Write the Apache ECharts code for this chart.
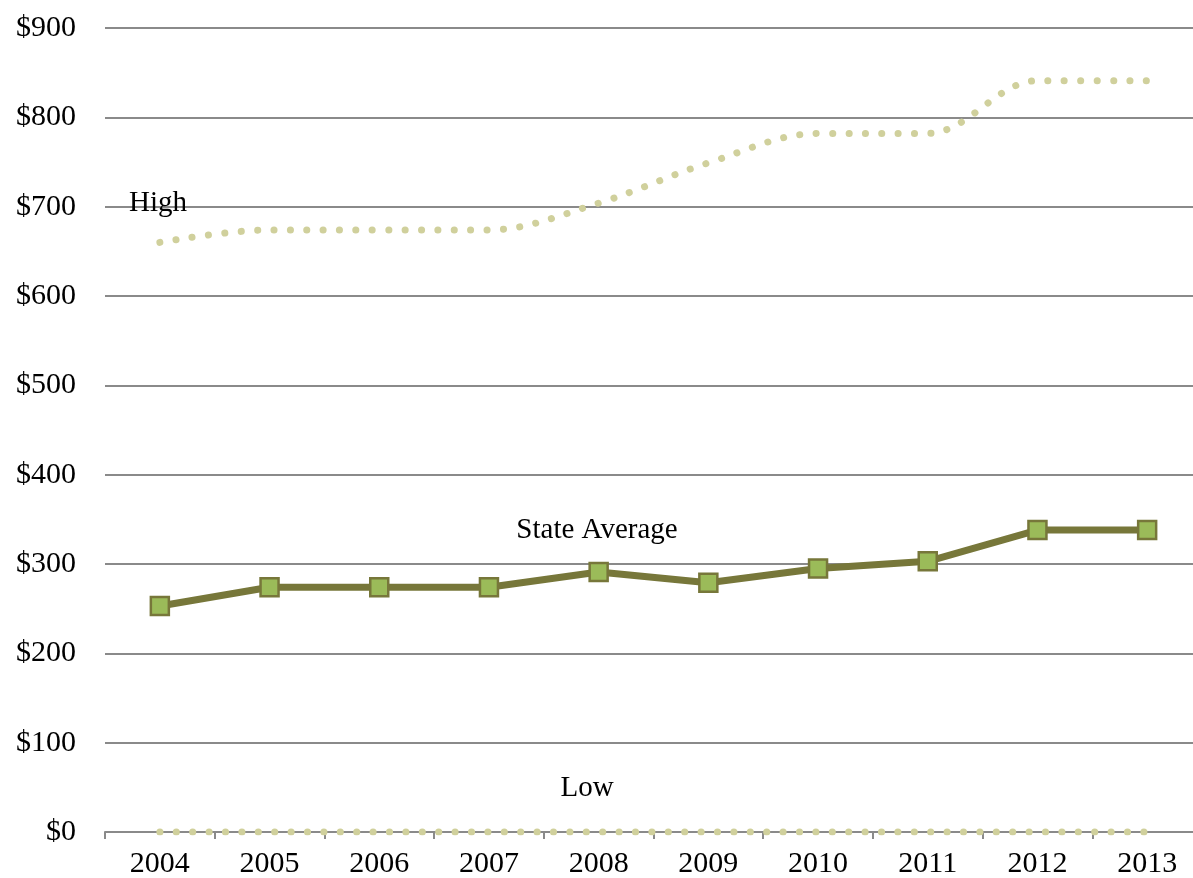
<!DOCTYPE html>
<html>
<head>
<meta charset="utf-8">
<script src="https://cdn.jsdelivr.net/npm/echarts@6/dist/echarts.min.js"></script>
<style>
html,body{margin:0;padding:0;background:#fff;}
#chart{width:1193px;height:878px;}
</style>
</head>
<body>
<div id="chart"></div>
<script>
const years = ['2004','2005','2006','2007','2008','2009','2010','2011','2012','2013'];
const highValues = [660, 674, 674, 674, 704, 749, 782, 782, 841, 841];
const stateAverage = [253, 274, 274, 274, 291, 279, 295, 303, 338, 338];
const lowValues = [0, 0, 0, 0, 0, 0, 0, 0, 0, 0];
const yTicks = [0, 100, 200, 300, 400, 500, 600, 700, 800, 900];

const font = '"Liberation Serif", "DejaVu Serif", serif';
const gridColor = '#8a8a8a';
const dotColor = '#d0d09c';

const chart = echarts.init(document.getElementById('chart'));
chart.setOption({
  animation: false,
  backgroundColor: '#ffffff',
  grid: {left: 105, top: 28, width: 1097, height: 804, outerBoundsMode: 'none', containLabel: false},
  xAxis: {
    type: 'category',
    data: years,
    boundaryGap: true,
    axisLine: {show: true, lineStyle: {color: gridColor, width: 2}},
    axisTick: {show: true, length: 7, lineStyle: {color: gridColor, width: 2}},
    axisLabel: {color: '#000', fontFamily: font, fontSize: 30, margin: 17},
    splitLine: {show: false}
  },
  yAxis: {
    type: 'value',
    min: yTicks[0],
    max: yTicks[yTicks.length - 1],
    interval: 100,
    axisLine: {show: false},
    axisTick: {show: false},
    axisLabel: {color: '#000', fontFamily: font, fontSize: 30, margin: 29, formatter: v => '$' + v},
    splitLine: {show: true, lineStyle: {color: gridColor, width: 2}}
  },
  series: [
    {
      name: 'Low', type: 'line', data: lowValues, showSymbol: false, z: 3,
      lineStyle: {color: dotColor, width: 7, type: [0.1, 16.3], cap: 'round'}
    },
    {
      name: 'High', type: 'line', data: highValues, smooth: 0.35, showSymbol: false, z: 3,
      lineStyle: {color: dotColor, width: 7, type: [0.1, 16.3], cap: 'round'}
    },
    {
      name: 'State Average', type: 'line', data: stateAverage, z: 4,
      symbol: 'rect', symbolSize: 18,
      lineStyle: {color: '#77773a', width: 7},
      itemStyle: {color: '#9bbb59', borderColor: '#77773a', borderWidth: 2.5}
    }
  ],
  graphic: [
    {type: 'text', x: 158, y: 203, z: 10, style: {text: 'High', font: '29px ' + font, fill: '#000', align: 'center', verticalAlign: 'middle'}},
    {type: 'text', x: 597, y: 530, z: 10, style: {text: 'State Average', font: '29px ' + font, fill: '#000', align: 'center', verticalAlign: 'middle'}},
    {type: 'text', x: 587, y: 788, z: 10, style: {text: 'Low', font: '29px ' + font, fill: '#000', align: 'center', verticalAlign: 'middle'}}
  ]
});
</script>
</body>
</html>
